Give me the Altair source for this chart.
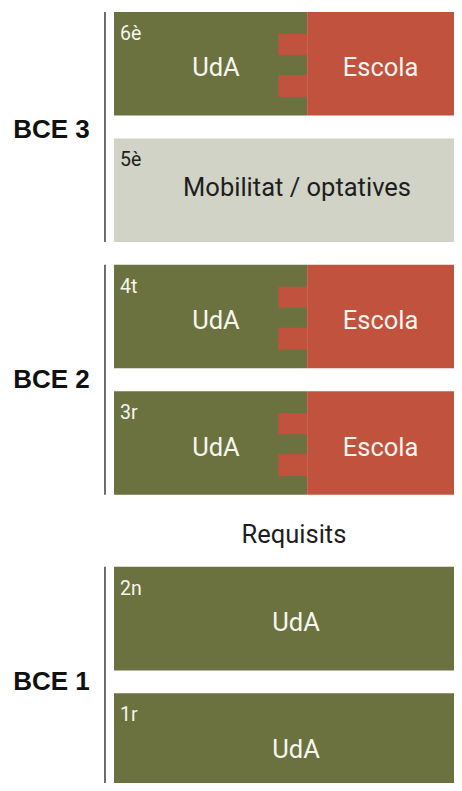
import altair as alt
import pandas as pd

# ---- data ----
years = ["6è", "5è", "4t", "3r", "2n", "1r"]
cycles = ["BCE 3", "BCE 3", "BCE 2", "BCE 2", "BCE 1", "BCE 1"]
kinds = ["split", "mobilitat", "split", "split", "uda", "uda"]
slots = [0, 1, 2, 3, 4.39, 5.39]          # row order (with extra gap before BCE 1)
uda_share = 55.5                           # % of row width held by UdA in split rows
cycle_names = ["BCE 3", "BCE 2", "BCE 1"]
cycle_first = [0, 2, 4.39]
cycle_last = [1, 3, 5.39]

# ---- layout constants (in scale units) ----
BOX_H = 0.819
X_DOM = [-30.46, 97.7]
Y_DOM = [-0.0316, 6.100]
TAB_W = 8.3
TABS = [(0.174, 0.340), (0.498, 0.672)]

GREEN = "#6b723f"
RED = "#c0523e"
GREY = "#d0d3c5"
FONT = "Roboto"

rects, tabs, labels, years_txt = [], [], [], []
for yr, kind, s in zip(years, kinds, slots):
    if kind == "split":
        rects.append(dict(x=0, x2=uda_share, y=s, y2=s + BOX_H, part="UdA"))
        rects.append(dict(x=uda_share, x2=100, y=s, y2=s + BOX_H, part="Escola"))
        for a, b in TABS:
            tabs.append(dict(x=uda_share - TAB_W, x2=uda_share, y=s + a, y2=s + b, part="Escola"))
        labels.append(dict(x=uda_share / 2 + 1.55, y=s + 0.51, text="UdA", dark=False))
        labels.append(dict(x=76.6, y=s + 0.51, text="Escola", dark=False))
    elif kind == "mobilitat":
        rects.append(dict(x=0, x2=100, y=s, y2=s + BOX_H, part="Mobilitat"))
        labels.append(dict(x=52.6, y=s + 0.452, text="Mobilitat / optatives", dark=True))
    else:
        rects.append(dict(x=0, x2=100, y=s, y2=s + BOX_H, part="UdA"))
        labels.append(dict(x=52.3, y=s + 0.51, text="UdA", dark=False))
    years_txt.append(dict(x=1.72, y=s + 0.222, text=yr, dark=(kind == "mobilitat")))

rect_df = pd.DataFrame(rects + tabs)
label_df = pd.DataFrame(labels)
year_df = pd.DataFrame(years_txt)

line_df = pd.DataFrame(dict(
    name=cycle_names,
    y=cycle_first,
    y2=[cycle_last[0] + BOX_H, cycle_last[1] + BOX_H, Y_DOM[1]],
    x=[-2.59] * 3,
))
bce_df = pd.DataFrame(dict(
    name=cycle_names,
    y=[0.934, 2.911, 5.30],
    x=[-17.96] * 3,
))
req_df = pd.DataFrame(dict(text=["Requisits"], x=[51.7], y=[4.20]))

xs = alt.Scale(domain=X_DOM, nice=False, zero=False)
ys = alt.Scale(domain=Y_DOM, nice=False, zero=False, reverse=True)
X = lambda f="x": alt.X(f"{f}:Q", scale=xs, axis=None)
Y = lambda f="y": alt.Y(f"{f}:Q", scale=ys, axis=None)

color = alt.Color("part:N", scale=alt.Scale(domain=["UdA", "Escola", "Mobilitat"],
                                            range=[GREEN, RED, GREY]), legend=None)

boxes = alt.Chart(rect_df).mark_rect(clip=True).encode(
    x=X(), x2="x2:Q", y=Y(), y2="y2:Q", color=color)

main_txt = alt.Chart(label_df).mark_text(
    font=FONT, fontSize=25.5, baseline="alphabetic", align="center"
).encode(
    x=X(), y=Y(), text="text:N",
    color=alt.condition("datum.dark", alt.value("#1e1e1e"), alt.value("#f7f5ee")))

year_t = alt.Chart(year_df).mark_text(
    font=FONT, fontSize=19.5, baseline="alphabetic", align="left"
).encode(
    x=X(), y=Y(), text="text:N",
    color=alt.condition("datum.dark", alt.value("#1e1e1e"), alt.value("#f7f5ee")))

lines = alt.Chart(line_df).mark_rule(color="#4a4a4a", strokeWidth=1.6, clip=True).encode(
    x=X(), y=Y(), y2="y2:Q")

bce = alt.Chart(bce_df).mark_text(
    font="Liberation Sans", fontWeight="bold", fontSize=26, baseline="middle",
    align="center", color="#111111"
).encode(x=X(), y=Y(), text="name:N")

req = alt.Chart(req_df).mark_text(
    font=FONT, fontSize=25.5, baseline="alphabetic", align="center",
    color="#1e1e1e"
).encode(x=X(), y=Y(), text="text:N")

chart = alt.layer(boxes, main_txt, year_t, lines, bce, req).properties(
    width=446, height=775, padding=0,
    autosize=alt.AutoSizeParams(type="none"),
).configure(background="white", view=alt.ViewConfig(stroke=None))

chart.save("out.html", embed_options={"renderer": "svg", "actions": False})
